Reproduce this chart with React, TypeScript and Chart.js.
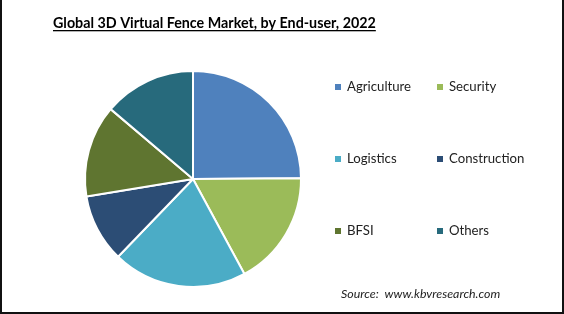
import React, { useEffect, useRef } from "react";
import { Chart, registerables } from "chart.js";

Chart.register(...registerables);

const TITLE = "Global 3D Virtual Fence Market, by End-user, 2022";
const SOURCE = "Source:  www.kbvresearch.com";
const categories = ["Agriculture", "Security", "Logistics", "Construction", "BFSI", "Others"];
const shares = [24.9, 17.2, 20.1, 10.2, 13.8, 13.8];
const colors = ["#4f81bd", "#9bbb59", "#4bacc6", "#2c4d75", "#5f7530", "#276a7c"];

const decorPlugin = {
  id: "decor",
  beforeDraw(chart: any) {
    const ctx = chart.ctx;
    ctx.save();
    ctx.fillStyle = "#ffffff";
    ctx.fillRect(0, 0, chart.width, chart.height);
    ctx.restore();
  },
  afterDraw(chart: any) {
    const ctx = chart.ctx;
    ctx.save();
    // border (left, right, bottom)
    ctx.fillStyle = "#111111";
    ctx.fillRect(0, 0, 2, chart.height);
    ctx.fillRect(chart.width - 2, 0, 2, chart.height);
    ctx.fillRect(0, chart.height - 2, chart.width, 2);
    // title
    ctx.fillStyle = "#000000";
    ctx.font = "bold 14.3px Lato, 'Open Sans', sans-serif";
    ctx.textBaseline = "alphabetic";
    ctx.textAlign = "left";
    const tx = 53;
    const ty = 28;
    ctx.fillText(TITLE, tx, ty);
    const w = ctx.measureText(TITLE).width;
    ctx.fillRect(tx, ty + 2, w, 1.3);
    // legend
    const labels = chart.data.labels as string[];
    const bg = chart.data.datasets[0].backgroundColor as string[];
    const colX = [335, 437];
    const rowY = [87, 159, 231];
    ctx.font = "13.2px Lato, 'Open Sans', sans-serif";
    ctx.textBaseline = "middle";
    labels.forEach((lab, i) => {
      const x = colX[i % 2];
      const y = rowY[Math.floor(i / 2)];
      ctx.fillStyle = bg[i];
      ctx.fillRect(x, y - 3, 6, 6);
      ctx.fillStyle = "#222222";
      ctx.fillText(lab, x + 12, y);
    });
    // source
    ctx.font = "italic 12.4px Lato, 'Open Sans', sans-serif";
    ctx.fillStyle = "#222222";
    ctx.fillText(SOURCE, 341, 294);
    ctx.restore();
  },
};

export default function App() {
  const ref = useRef<HTMLCanvasElement | null>(null);
  useEffect(() => {
    document.body.style.margin = "0";
    const chart = new Chart(ref.current as HTMLCanvasElement, {
      type: "pie",
      data: {
        labels: categories,
        datasets: [
          {
            data: shares,
            backgroundColor: colors,
            borderColor: "#ffffff",
            borderWidth: 2,
          },
        ],
      },
      options: {
        animation: false,
        responsive: false,
        layout: { padding: { left: 84, right: 262, top: 70, bottom: 26 } },
        plugins: {
          legend: { display: false },
          title: { display: false },
          tooltip: { enabled: false },
        },
      },
      plugins: [decorPlugin],
    });
    return () => chart.destroy();
  }, []);
  return <canvas ref={ref} width={564} height={314} style={{ display: "block" }} />;
}
